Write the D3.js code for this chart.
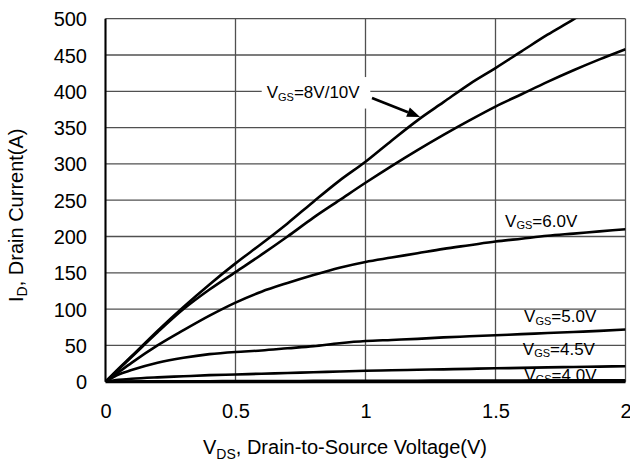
<!DOCTYPE html>
<html>
<head>
<meta charset="utf-8">
<script src="https://cdn.jsdelivr.net/npm/d3@7"></script>
<style>
  body { margin: 0; background: #fff; }
  text { font-family: "Liberation Sans", Arial, sans-serif; fill: #000; }
</style>
</head>
<body>
<svg id="chart" width="630" height="464"></svg>
<script>
// Output characteristics: drain current vs drain-to-source voltage for several gate voltages
const xTicks = [0, 0.5, 1, 1.5, 2];
const xTickLabels = ["0", "0.5", "1", "1.5", "2"];
const yTicks = [0, 50, 100, 150, 200, 250, 300, 350, 400, 450, 500];
const yTickLabels = ["0", "50", "100", "150", "200", "250", "300", "350", "400", "450", "500"];

// Shared VDS sample points (V)
const vds = [0, 0.05, 0.1, 0.2, 0.3, 0.4, 0.5, 0.6, 0.7, 0.8, 0.9, 1.0, 1.1, 1.2, 1.3, 1.4, 1.5, 1.6, 1.7, 1.8, 1.9, 2.0];

// Drain current (A) for each gate voltage
const idVgs10 = [0, 18, 35, 70, 103, 134, 163, 190, 218, 248, 277, 303, 332, 360, 385, 410, 432, 455, 478, 499, 522, 544];
const idVgs8  = [0, 17, 34, 68, 100, 127, 151, 175, 200, 226, 250, 274, 297, 319, 340, 360, 379, 396, 413, 429, 444, 458];
const idVgs6  = [0, 13, 26, 50, 71, 91, 109, 124, 136, 147, 157, 165, 171, 177, 183, 188, 193, 197, 201, 204, 207, 210];
const idVgs5  = [0, 10, 16, 26, 33, 38, 41, 43, 46, 49, 53, 56, 57.5, 59, 61, 62.5, 64, 65.5, 67, 68.5, 70, 72];
const idVgs45 = [0, 2.5, 4, 6, 7.5, 9, 10, 11, 12, 13, 14, 15, 15.7, 16.4, 17, 17.7, 18.5, 19, 19.7, 20.3, 20.8, 21.3];
const idVgs4  = [0, 0.2, 0.3, 0.5, 0.6, 0.7, 0.8, 0.9, 1, 1.1, 1.2, 1.2, 1.3, 1.4, 1.5, 1.5, 1.6, 1.7, 1.8, 1.8, 1.9, 2.0];

const seriesList = [idVgs10, idVgs8, idVgs6, idVgs5, idVgs45, idVgs4];

// Curve labels: gate voltage text and anchor (VDS, ID) of the label baseline start
const labelText = ["=8V/10V", "=6.0V", "=5.0V", "=4.5V", "=4.0V"];
const labelVds = [0.62, 1.537, 1.61, 1.605, 1.611];
const labelId = [390.7, 213.5, 82, 36.8, 1.2];

const svg = d3.select("#chart");
const plotLeft = 105.5, plotRight = 625.5, plotTop = 18.7, plotBottom = 381.7;

const x = d3.scaleLinear().domain([0, 2]).range([plotLeft, plotRight]);
const y = d3.scaleLinear().domain([0, 500]).range([plotBottom, plotTop]);

svg.append("defs").append("clipPath").attr("id", "plotClip")
  .append("rect").attr("x", plotLeft).attr("y", plotTop)
  .attr("width", plotRight - plotLeft).attr("height", plotBottom - plotTop);

// Grid
const grid = svg.append("g").attr("stroke", "#505050").attr("stroke-width", 1.3);
grid.selectAll("line.h").data(yTicks).join("line").attr("class", "h")
  .attr("x1", plotLeft).attr("x2", plotRight)
  .attr("y1", d => y(d)).attr("y2", d => y(d));
grid.selectAll("line.v").data(xTicks).join("line").attr("class", "v")
  .attr("x1", d => x(d)).attr("x2", d => x(d))
  .attr("y1", plotTop).attr("y2", plotBottom);

// Axes (tick labels only; frame lines drawn separately)
const xAxis = d3.axisBottom(x).tickValues(xTicks)
  .tickFormat((d, i) => xTickLabels[i]).tickSize(0).tickPadding(0);
const gx = svg.append("g").attr("transform", `translate(0,${plotBottom})`).call(xAxis);
gx.select(".domain").remove();
gx.selectAll("text").attr("font-size", 20).attr("dy", null).attr("y", 36)
  .style("font-family", '"Liberation Sans", Arial, sans-serif').attr("fill", "#000");

const yAxis = d3.axisLeft(y).tickValues(yTicks)
  .tickFormat((d, i) => yTickLabels[i]).tickSize(0).tickPadding(0);
const gy = svg.append("g").attr("transform", `translate(87,0)`).call(yAxis);
gy.select(".domain").remove();
gy.selectAll("text").attr("font-size", 20).attr("x", 0).attr("dy", "0.35em")
  .style("font-family", '"Liberation Sans", Arial, sans-serif').attr("fill", "#000");

// Curves
const line = d3.line()
  .x((d, i) => x(vds[i]))
  .y(d => y(d))
  .curve(d3.curveMonotoneX);

svg.append("g").attr("clip-path", "url(#plotClip)")
  .selectAll("path").data(seriesList).join("path")
  .attr("d", d => line(d))
  .attr("fill", "none").attr("stroke", "#000").attr("stroke-width", 2.6)
  .attr("stroke-linejoin", "round");

// Curve labels
const labels = svg.append("g").attr("clip-path", "url(#plotClip)");
labelText.forEach((t, i) => {
  const g = labels.append("g");
  const txt = g.append("text")
    .attr("x", x(labelVds[i])).attr("y", y(labelId[i]))
    .attr("font-size", 17);
  txt.append("tspan").text("V");
  txt.append("tspan").attr("font-size", 11).attr("dy", 2.5).text("GS");
  txt.append("tspan").attr("dy", -2.5).text(t);
  if (i === 0) {
    const b = txt.node().getBBox();
    g.insert("rect", "text")
      .attr("x", b.x - 5).attr("y", b.y - 6)
      .attr("width", b.width + 15).attr("height", b.height + 12)
      .attr("fill", "#fff");
  }
});

// Frame (drawn over the bottom label so the axis trims it)
svg.append("line").attr("x1", plotLeft).attr("x2", plotLeft).attr("y1", plotTop).attr("y2", plotBottom)
  .attr("stroke", "#000").attr("stroke-width", 2);
svg.append("line").attr("x1", plotLeft).attr("x2", plotRight).attr("y1", plotBottom).attr("y2", plotBottom)
  .attr("stroke", "#000").attr("stroke-width", 3);

// Arrow from the 8V/10V label to its curve
const ax0 = x(1.025), ay0 = y(390.8), ax1 = x(1.21), ay1 = y(364.6);
const ang = Math.atan2(ay1 - ay0, ax1 - ax0);
const hl = 13, hw = 5;
const bx = ax1 - hl * Math.cos(ang), by = ay1 - hl * Math.sin(ang);
svg.append("line").attr("x1", ax0).attr("y1", ay0).attr("x2", bx).attr("y2", by)
  .attr("stroke", "#000").attr("stroke-width", 2.6);
svg.append("path")
  .attr("d", `M${ax1},${ay1}L${bx + hw * Math.sin(ang)},${by - hw * Math.cos(ang)}L${bx - hw * Math.sin(ang)},${by + hw * Math.cos(ang)}Z`)
  .attr("fill", "#000");

// Axis titles
const xt = svg.append("text").attr("x", 203).attr("y", 454).attr("font-size", 20);
xt.append("tspan").text("V");
xt.append("tspan").attr("font-size", 14).attr("dy", 5).text("DS");
xt.append("tspan").attr("dy", -5).text(", Drain-to-Source Voltage(V)");

const yt = svg.append("text").attr("transform", "translate(23,302) rotate(-90)").attr("font-size", 20);
yt.append("tspan").text("I");
yt.append("tspan").attr("font-size", 14).attr("dy", 4).text("D");
yt.append("tspan").attr("dy", -4).text(", Drain Current(A)");
</script>
</body>
</html>
